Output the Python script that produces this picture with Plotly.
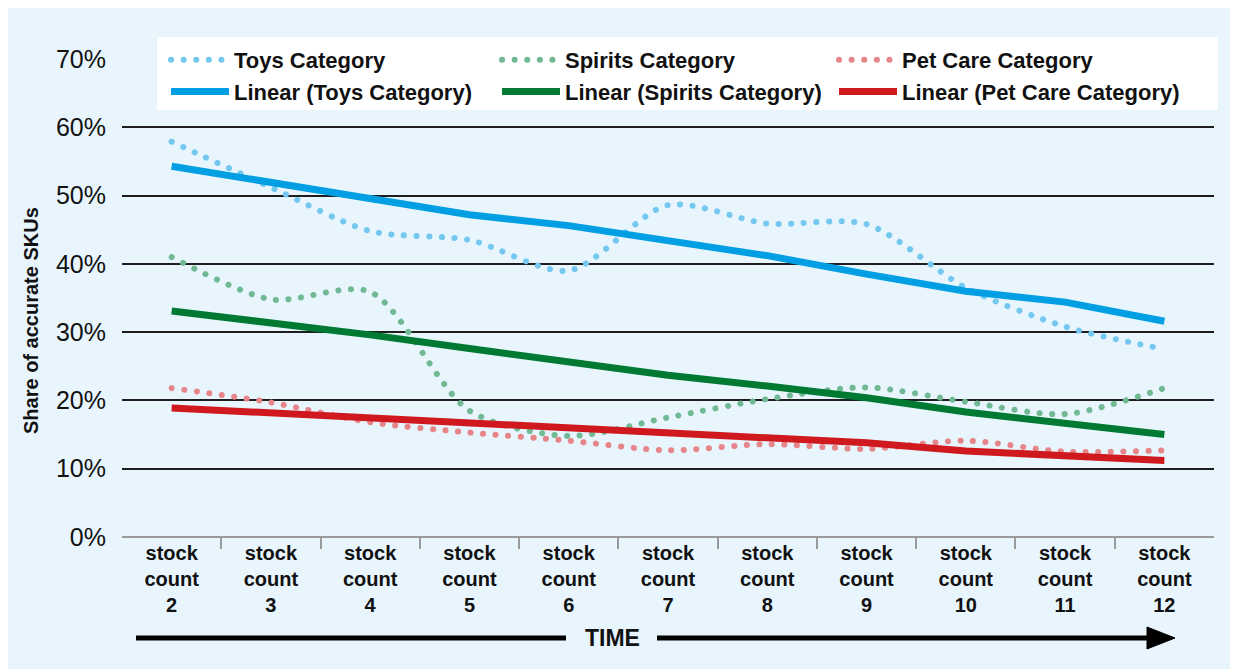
import plotly.graph_objects as go

# ---------------- data ----------------
stock_counts = [2, 3, 4, 5, 6, 7, 8, 9, 10, 11, 12]
x_tick_labels = ["stock<br>count<br>%d" % n for n in stock_counts]

toys = [57.9, 51.2, 44.8, 43.5, 39.0, 48.6, 45.9, 45.8, 36.5, 30.8, 27.5]
spirits = [41.0, 34.8, 35.9, 18.5, 14.8, 17.5, 20.2, 21.9, 19.8, 18.0, 21.8]
pet_care = [21.8, 19.7, 16.8, 15.3, 14.1, 12.7, 13.6, 12.9, 14.1, 12.5, 12.7]

linear_toys = [54.3, 51.9, 49.5, 47.2, 45.6, 43.4, 41.2, 38.5, 36.0, 34.4, 31.6]
linear_spirits = [33.1, 31.4, 29.6, 27.6, 25.6, 23.7, 22.1, 20.4, 18.3, 16.6, 15.0]
linear_pet_care = [18.9, 18.2, 17.4, 16.7, 15.9, 15.2, 14.6, 13.8, 12.6, 11.8, 11.2]

y_ticks = [0, 10, 20, 30, 40, 50, 60, 70]
y_tick_labels = ["0%", "10%", "20%", "30%", "40%", "50%", "60%", "70%"]

series_names = ["Toys Category", "Spirits Category", "Pet Care Category"]
linear_names = ["Linear (Toys Category)", "Linear (Spirits Category)", "Linear (Pet Care Category)"]

# ---------------- style ----------------
BG = "#e8f5fd"
FONT = "Liberation Sans, Arial, Helvetica, sans-serif"
dot_colors = ["#74c8ef", "#70b994", "#e6868b"]
lin_colors = ["#009fe3", "#007a33", "#d0191e"]
legend_ids = ["legend", "legend2", "legend3"]

fig = go.Figure()
for name, vals, col, lg in zip(series_names, [toys, spirits, pet_care], dot_colors, legend_ids):
    fig.add_trace(go.Scatter(
        x=stock_counts, y=vals, name=name, mode="lines", legend=lg,
        line=dict(color=col, width=6, dash="5px,7px", shape="spline", smoothing=0.8),
        hoverinfo="skip"))
for name, vals, col, lg in zip(linear_names, [linear_toys, linear_spirits, linear_pet_care], lin_colors, legend_ids):
    fig.add_trace(go.Scatter(
        x=stock_counts, y=vals, name=name, mode="lines", legend=lg,
        line=dict(color=col, width=7),
        hoverinfo="skip"))

# figure geometry (pixels); page body offsets the figure by ~8px
OFF = 8
L, R, T, B = 114, 32, 51, 140
W, H = 1238, 669
pw, ph = W - L - R, H - T - B


def px(xs):  # screen x -> paper x
    return (xs - OFF - L) / pw


def py(ys):  # screen y -> paper y
    return (H - B - (ys - OFF)) / ph


annotations = [
    dict(x=px(612), xref="paper", y=py(638), yref="paper", yanchor="middle", xanchor="center",
         text="TIME", showarrow=False,
         font=dict(family=FONT, size=23, color="#111", weight="bold")),
    dict(x=px(31), xref="paper", y=py(321), yref="paper", xanchor="center", yanchor="middle",
         text="Share of accurate SKUs", textangle=-90, showarrow=False,
         font=dict(family=FONT, size=20, color="#111", weight="bold")),
]

ay = py(638)
shapes = [
    # legend panel
    dict(type="rect", xref="paper", yref="paper", x0=px(157), x1=px(1218), y0=py(110), y1=py(37),
         fillcolor="white", line=dict(width=0), layer="above"),
    # time arrow
    dict(type="line", xref="paper", yref="paper", x0=px(136), x1=px(566), y0=ay, y1=ay,
         line=dict(color="black", width=5)),
    dict(type="line", xref="paper", yref="paper", x0=px(657), x1=px(1152), y0=ay, y1=ay,
         line=dict(color="black", width=5)),
    dict(type="path", xref="paper", yref="paper",
         path=f"M{px(1147)},{py(627)} L{px(1175)},{ay} L{px(1147)},{py(649)} Z",
         fillcolor="black", line=dict(color="black", width=1)),
]


def legend_box(xs):
    return dict(
        orientation="v", x=px(xs), y=py(39), xanchor="left", yanchor="top",
        bgcolor="rgba(0,0,0,0)", borderwidth=0,
        font=dict(family=FONT, size=22, color="#111", weight="bold"),
        itemwidth=58, traceorder="normal", tracegroupgap=0)


fig.update_layout(
    width=W, height=H, autosize=False,
    margin=dict(l=L, r=R, t=T, b=B, pad=0),
    paper_bgcolor=BG, plot_bgcolor=BG,
    font=dict(family=FONT, color="#111"),
    showlegend=True,
    legend=legend_box(166),
    legend2=legend_box(497),
    legend3=legend_box(834),
    xaxis=dict(
        range=[1.5, 12.5], tickvals=stock_counts, ticktext=x_tick_labels, ticks="",
        ticklabelstandoff=2,
        tickfont=dict(family=FONT, size=20, color="#111", weight="bold"),
        showgrid=False, zeroline=False, showline=False, fixedrange=True,
        minor=dict(tickvals=[n + 0.5 for n in stock_counts[:-1]], ticks="outside",
                   ticklen=11, tickwidth=2, tickcolor="#9a9a9a", showgrid=False)),
    yaxis=dict(
        range=[0, 70], tickvals=y_ticks, ticktext=y_tick_labels, ticks="",
        ticklabelstandoff=15,
        tickfont=dict(family=FONT, size=25, color="#111"),
        showgrid=True, gridcolor="#1e1e1e", gridwidth=1.6,
        zeroline=True, zerolinecolor="#9a9a9a", zerolinewidth=2,
        showline=False, fixedrange=True),
    annotations=annotations,
    shapes=shapes,
)

post_script = """
var gd = document.getElementById('{plot_id}');
gd.querySelectorAll('path.js-line').forEach(function(p){
  var d = p.style.strokeDasharray || '';
  if (d.indexOf('5px') === 0) {
    p.style.strokeDasharray = '0.1px, 12.5px';
    p.style.strokeLinecap = 'round';
  }
});
"""

fig.write_html("out.html", post_script=post_script, config={"displayModeBar": False})
